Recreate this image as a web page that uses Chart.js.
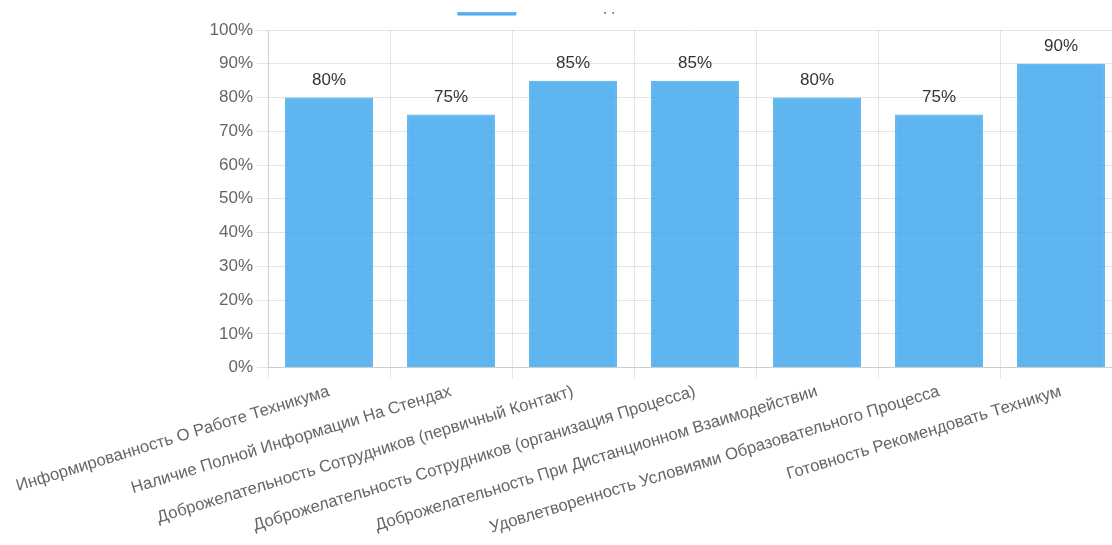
<!DOCTYPE html>
<html>
<head>
<meta charset="utf-8">
<script src="https://cdn.jsdelivr.net/npm/chart.js@4/dist/chart.umd.min.js"></script>
<style>
  html, body { margin: 0; padding: 0; background: #fff; overflow: hidden; width: 1112px; height: 545px; }
  #clip { position: absolute; left: 0; top: 12px; width: 1112px; height: 533px; overflow: hidden; }
  #wrap { position: absolute; left: 0px; top: -28px; width: 1122px; height: 557px; }
</style>
</head>
<body>
<div id="clip"><div id="wrap"><canvas id="c"></canvas></div></div>
<script>
const categories = [
  "Информированность О Работе Техникума",
  "Наличие Полной Информации На Стендах",
  "Доброжелательность Сотрудников (первичный Контакт)",
  "Доброжелательность Сотрудников (организация Процесса)",
  "Доброжелательность При Дистанционном Взаимодействии",
  "Удовлетворенность Условиями Образовательного Процесса",
  "Готовность Рекомендовать Техникум"
];
const seriesName = "Итоговые данные";
const values = [80, 75, 85, 85, 80, 75, 90];
const yTicks = [0, 10, 20, 30, 40, 50, 60, 70, 80, 90, 100];

const FONT = "'Liberation Sans', Arial, Helvetica, sans-serif";
const FS = 17;
const XFS = 16.7;

const valueLabels = {
  id: 'valueLabels',
  afterDatasetsDraw(chart) {
    const ctx = chart.ctx;
    ctx.save();
    ctx.font = FS + "px " + FONT;
    ctx.fillStyle = "#333";
    ctx.textAlign = "center";
    ctx.textBaseline = "bottom";
    chart.getDatasetMeta(0).data.forEach((bar, i) => {
      ctx.fillText(values[i] + "%", bar.x, bar.y - 9);
    });
    ctx.restore();
  }
};

const legendGap = {
  id: 'legendGap',
  beforeLayout(chart) {
    const lg = chart.legend;
    if (lg && !lg._gapPatched) {
      const orig = lg.fit;
      lg.fit = function () { orig.call(this); this.height += 5; };
      lg._gapPatched = true;
    }
  }
};

new Chart(document.getElementById('c'), {
  type: 'bar',
  data: {
    labels: categories,
    datasets: [{
      label: seriesName,
      data: values,
      backgroundColor: 'rgba(54,162,235,0.8)',
      borderColor: 'rgba(54,162,235,0.9)',
      borderWidth: 1
    }]
  },
  options: {
    responsive: true,
    maintainAspectRatio: false,
    animation: false,
    layout: { padding: { top: 0, right: 0, bottom: 0, left: 0 } },
    plugins: {
      legend: {
        display: true,
        labels: { boxWidth: 58, padding: 14, font: { size: FS, family: FONT }, color: '#666' }
      },
      tooltip: { enabled: false }
    },
    scales: {
      x: {
        grid: { color: 'rgba(0,0,0,0.1)', tickLength: 11 },
        afterFit(axis) { axis.paddingLeft = 0; axis.paddingRight = 0; },
        ticks: { color: '#666', font: { size: XFS, family: FONT }, minRotation: 17, maxRotation: 17, autoSkip: false, padding: 3 }
      },
      y: {
        min: 0, max: 100,
        grid: { color: 'rgba(0,0,0,0.1)', tickLength: 11 },
        afterBuildTicks(axis) { axis.ticks = yTicks.map(v => ({ value: v })); },
        afterFit(axis) { axis.width = 268; },
        ticks: { color: '#666', font: { size: FS, family: FONT }, padding: 4, callback: v => v + '%' }
      }
    }
  },
  plugins: [legendGap, valueLabels]
});
</script>
</body>
</html>
